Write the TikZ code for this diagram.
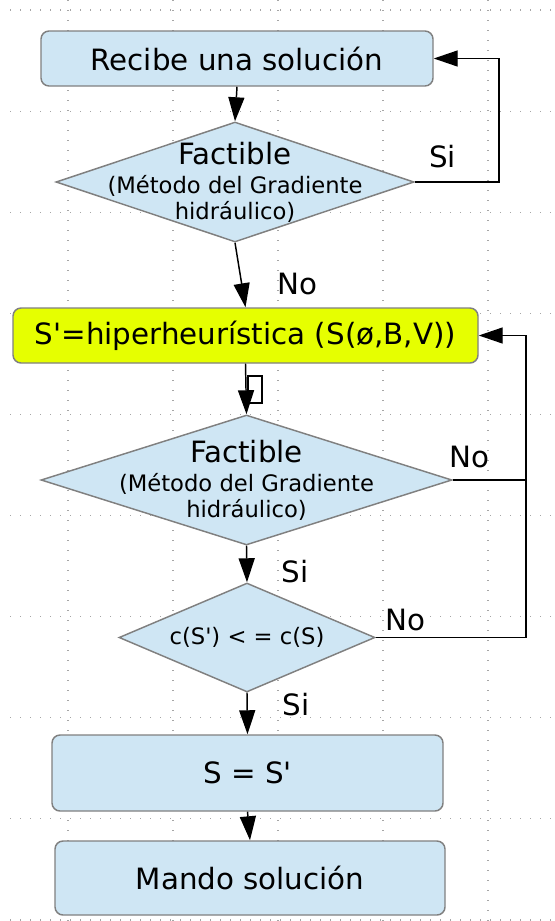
\documentclass[tikz,border=0pt]{standalone}
\usepackage{fontspec}
\setmainfont{DejaVu Sans}
\usepackage{tikz}
\usetikzlibrary{arrows.meta,shapes.geometric}
\newcommand{\ap}{\textquotesingle}
\definecolor{cajaazul}{RGB}{207,230,244}
\definecolor{cajaamar}{RGB}{230,255,0}
\definecolor{borde}{RGB}{128,128,128}

\begin{document}
\begin{tikzpicture}[
  x=0.75pt, y=-0.75pt,
  caja/.style={draw=borde, fill=cajaazul, line width=1.1pt, rounded corners=6pt, inner sep=0pt, font=\fontsize{22pt}{26pt}\selectfont},
  decision/.style={draw=borde, fill=cajaazul, line width=1.1pt, shape=diamond, inner sep=0pt},
  dtexto/.style={align=center, inner sep=0pt, font=\fontsize{17pt}{19.5pt}\selectfont},
  etiqueta/.style={inner sep=0pt, font=\fontsize{22pt}{26pt}\selectfont},
  flecha/.style={draw=black, line width=1.1pt, -{Triangle[length=18pt,width=12pt]}},
  linea/.style={draw=black, line width=1.1pt},
  rejilla/.style={draw=black!35, line width=0.9pt, dash pattern=on 0.9pt off 6.6pt}
]
\useasboundingbox (0,0) rectangle (554,921);
\foreach \gy in {0,...,9} \draw[rejilla] (10,10+101.1*\gy) -- (554,10+101.1*\gy);
\foreach \gx in {0,...,4} \draw[rejilla] (68+105*\gx,0) -- (68+105*\gx,921);

\node[caja, minimum width=294pt, minimum height=41.25pt] (recibe) at (237,58.5) {Recibe una solución};
\node[decision, minimum width=268.5pt, minimum height=90pt] (fact1) at (235,182) {};
\node[dtexto] (fact1txt) at (fact1) {{\fontsize{22pt}{22pt}\selectfont Factible}\\[2.25pt](Método del Gradiente\\hidráulico)};
\node[caja, fill=cajaamar, minimum width=348.75pt, minimum height=41.25pt] (hiper) at (245.5,335.5) {S\ap=hiperheurística (S(ø,B,V))};
\node[decision, minimum width=308.25pt, minimum height=97.5pt] (fact2) at (246.5,480) {};
\node[dtexto] (fact2txt) at (fact2) {{\fontsize{22pt}{22pt}\selectfont Factible}\\[2.25pt](Método del Gradiente\\hidráulico)};
\node[decision, aspect=2.35, minimum width=192pt, minimum height=81.75pt, font=\fontsize{17pt}{19.5pt}\selectfont] (costo) at (247,637.5) {c(S\ap) < = c(S)};
\node[caja, minimum width=293.25pt, minimum height=57pt] (igual) at (247.5,773) {S = S\ap};
\node[caja, minimum width=292.5pt, minimum height=55.5pt] (mando) at (250,878) {Mando solución};
\node[draw=black, line width=1.1pt, minimum width=10.5pt, minimum height=20.25pt, inner sep=0pt] (cajita) at (255,389.5) {};

\coordinate (vuelta1) at (499,58.5);
\coordinate (vuelta2) at (526,637.5);
\draw[flecha] (recibe.south) -- (fact1.north);
\draw[flecha] (fact1.east) -| (vuelta1) -- (recibe.east);
\draw[flecha] (fact1.south) -- (hiper.north);
\draw[flecha] (hiper.south) -- (fact2.north);
\draw[flecha] (costo.east) -- (vuelta2) |- (hiper.east);
\draw[linea] (fact2.east) -- (fact2.east -| vuelta2);
\draw[flecha] (fact2.south) -- (costo.north);
\draw[flecha] (costo.south) -- (igual.north);
\draw[flecha] (igual.south) -- (mando.north);

\node[etiqueta] (si1) at (442.5,157) {Si};
\node[etiqueta] (no1) at (297.5,284) {No};
\node[etiqueta] (no2) at (469.5,457) {No};
\node[etiqueta] (si2) at (295,572) {Si};
\node[etiqueta] (no3) at (405,620) {No};
\node[etiqueta] (si3) at (296,705) {Si};
\end{tikzpicture}
\end{document}
